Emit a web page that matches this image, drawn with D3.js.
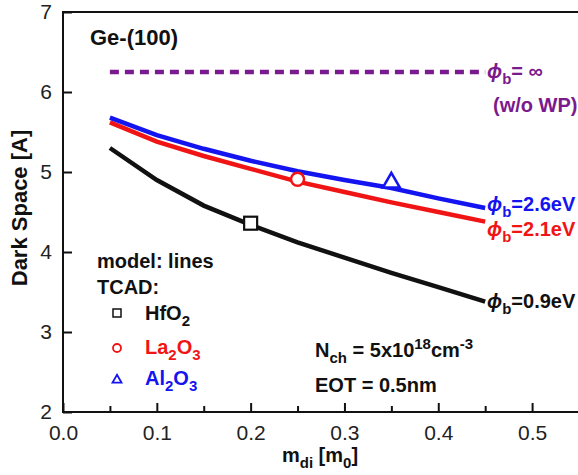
<!DOCTYPE html>
<html>
<head>
<meta charset="utf-8">
<script src="https://cdn.jsdelivr.net/npm/d3@7"></script>
<style>
  body { margin: 0; background: #fff; }
  text { font-family: Arial, "Liberation Sans", sans-serif; }
</style>
</head>
<body>
<svg id="chart" width="578" height="475"></svg>
<script>
// model curves, m_di [m0] vs dark space [A]
const mdi = [0.05, 0.1, 0.15, 0.2, 0.25, 0.3, 0.35, 0.4, 0.45];
const hfo2 = [5.30, 4.90, 4.58, 4.34, 4.12, 3.93, 3.74, 3.56, 3.38];   // phi_b = 0.9eV
const la2o3 = [5.62, 5.38, 5.20, 5.04, 4.88, 4.75, 4.62, 4.50, 4.38];  // phi_b = 2.1eV
const al2o3 = [5.68, 5.46, 5.29, 5.14, 5.01, 4.90, 4.80, 4.67, 4.55];  // phi_b = 2.6eV
const noWP = [6.25, 6.25];
const noWPx = [0.05, 0.45];

// TCAD points
const tcadX = [0.2, 0.25, 0.35];
const tcadY = [4.36, 4.91, 4.88];

const xTicks = [0, 0.1, 0.2, 0.3, 0.4, 0.5];
const yTicks = [2, 3, 4, 5, 6, 7];

const purple = "#7b1a8c", red = "#f01414", blue = "#1414f0";

const svg = d3.select("#chart");
const x = d3.scaleLinear().domain([0, 0.55]).range([63, 579]);
const y = d3.scaleLinear().domain([2, 7]).range([412, 12]);

// frame
svg.append("rect")
    .attr("x", x(0)).attr("y", y(7))
    .attr("width", x(0.55) - x(0)).attr("height", y(2) - y(7))
    .style("fill", "none").style("stroke", "#111").style("stroke-width", "2px");

// x axis, ticks inward
svg.append("g")
    .attr("transform", "translate(0," + y(2) + ")")
    .call(d3.axisBottom(x).tickValues(d3.range(0.05, 0.55, 0.1)).tickSize(-6).tickFormat(""))
    .call(g => g.select(".domain").remove())
    .call(g => g.selectAll("line").style("stroke", "#111").style("stroke-width", "2px"));

svg.append("g")
    .attr("transform", "translate(0," + y(2) + ")")
    .call(d3.axisBottom(x).tickValues(xTicks).tickSize(-9).tickPadding(13).tickFormat(d3.format(".1f")))
    .call(g => g.select(".domain").remove())
    .call(g => g.selectAll("line").style("stroke", "#111").style("stroke-width", "2px"))
    .call(g => g.selectAll("text").style("font-size", "21px").style("fill", "#222")
        .style("font-family", "Arial, 'Liberation Sans', sans-serif"));

svg.append("g")
    .attr("transform", "translate(" + x(0) + ",0)")
    .call(d3.axisLeft(y).tickValues(yTicks).tickSize(-9).tickPadding(11).tickFormat(d3.format("d")))
    .call(g => g.select(".domain").remove())
    .call(g => g.selectAll("line").style("stroke", "#111").style("stroke-width", "2px"))
    .call(g => g.selectAll("text").style("font-size", "21px").style("fill", "#222")
        .style("font-family", "Arial, 'Liberation Sans', sans-serif"));

// axis titles
const xt = svg.append("text")
    .attr("x", 320).attr("y", 462)
    .attr("text-anchor", "middle")
    .style("font-size", "20px").style("font-weight", "bold").style("fill", "#111");
xt.append("tspan").text("m");
xt.append("tspan").attr("dy", 6).style("font-size", "15px").text("di");
xt.append("tspan").attr("dy", -6).text(" [m");
xt.append("tspan").attr("dy", 6).style("font-size", "15px").text("0");
xt.append("tspan").attr("dy", -6).text("]");

svg.append("text")
    .attr("transform", "translate(27,208) rotate(-90)")
    .attr("text-anchor", "middle")
    .style("font-size", "22px").style("font-weight", "bold").style("fill", "#111")
    .text("Dark Space [A]");

// lines
const line = d3.line().x(d => x(d[0])).y(d => y(d[1]));
const curves = [
    { vals: hfo2, color: "#111" },
    { vals: la2o3, color: red },
    { vals: al2o3, color: blue }
];
curves.forEach(c => {
    svg.append("path")
        .datum(mdi.map((m, i) => [m, c.vals[i]]))
        .attr("d", line)
        .style("fill", "none").style("stroke", c.color).style("stroke-width", "4.5px");
});

svg.append("path")
    .datum(noWPx.map((m, i) => [m, noWP[i]]))
    .attr("d", line)
    .style("fill", "none").style("stroke", purple).style("stroke-width", "4.5px")
    .style("stroke-dasharray", "9,6");

// TCAD markers
svg.append("rect")
    .attr("x", x(tcadX[0]) - 6.5).attr("y", y(tcadY[0]) - 6.5)
    .attr("width", 13).attr("height", 13)
    .style("fill", "#fff").style("stroke", "#111").style("stroke-width", "2.2px");
svg.append("circle")
    .attr("cx", x(tcadX[1])).attr("cy", y(tcadY[1])).attr("r", 6.5)
    .style("fill", "#fff").style("stroke", red).style("stroke-width", "2.5px");
svg.append("path")
    .attr("d", d3.symbol().type(d3.symbolTriangle).size(125))
    .attr("transform", "translate(" + x(tcadX[2]) + "," + (y(tcadY[2]) + 1) + ")")
    .style("fill", "#fff").style("stroke", blue).style("stroke-width", "2.5px");

// text with sub/superscripts: parts are [text, shift] where shift is px down
function richText(px, py, color, size, parts) {
    const t = svg.append("text").attr("x", px).attr("y", py)
        .style("font-size", size + "px").style("font-weight", "bold").style("fill", color);
    let cur = 0;
    parts.forEach(p => {
        const shift = p[1] || 0;
        const ts = t.append("tspan").attr("dy", shift - cur).text(p[0]);
        if (shift !== 0) ts.style("font-size", Math.round(size * 0.75) + "px");
        if (p[2]) ts.style("font-style", "italic");
        cur = shift;
    });
    return t;
}

// curve labels
richText(487, 78, purple, 20, [["ϕ", 0, true], ["b", 6], ["= ∞", 0]]);
richText(493, 112, purple, 20, [["(w/o WP)"]]);
richText(487, 211, blue, 20, [["ϕ", 0, true], ["b", 6], ["=2.6eV", 0]]);
richText(487, 236, red, 20, [["ϕ", 0, true], ["b", 6], ["=2.1eV", 0]]);
richText(487, 308, "#111", 20, [["ϕ", 0, true], ["b", 6], ["=0.9eV", 0]]);

richText(90, 45, "#111", 22, [["Ge-(100)"]]);

// legend
richText(97, 268, "#111", 20, [["model: lines"]]);
richText(97, 294, "#111", 20, [["TCAD:"]]);

svg.append("rect").attr("x", 113).attr("y", 309).attr("width", 8).attr("height", 8)
    .style("fill", "#fff").style("stroke", "#111").style("stroke-width", "1.5px");
richText(145, 320, "#111", 20, [["HfO"], ["2", 6]]);
svg.append("circle").attr("cx", 117).attr("cy", 348).attr("r", 4)
    .style("fill", "#fff").style("stroke", red).style("stroke-width", "1.8px");
richText(145, 354, red, 20, [["La"], ["2", 6], ["O", 0], ["3", 6]]);
svg.append("path")
    .attr("d", d3.symbol().type(d3.symbolTriangle).size(35))
    .attr("transform", "translate(117,380)")
    .style("fill", "#fff").style("stroke", blue).style("stroke-width", "1.8px");
richText(145, 385, blue, 20, [["Al"], ["2", 6], ["O", 0], ["3", 6]]);

// conditions
richText(315, 357, "#111", 20, [["N"], ["ch", 6], [" = 5x10", 0], ["18", -8], ["cm", 0], ["-3", -8]]);
richText(315, 392, "#111", 20, [["EOT = 0.5nm"]]);
</script>
</body>
</html>
